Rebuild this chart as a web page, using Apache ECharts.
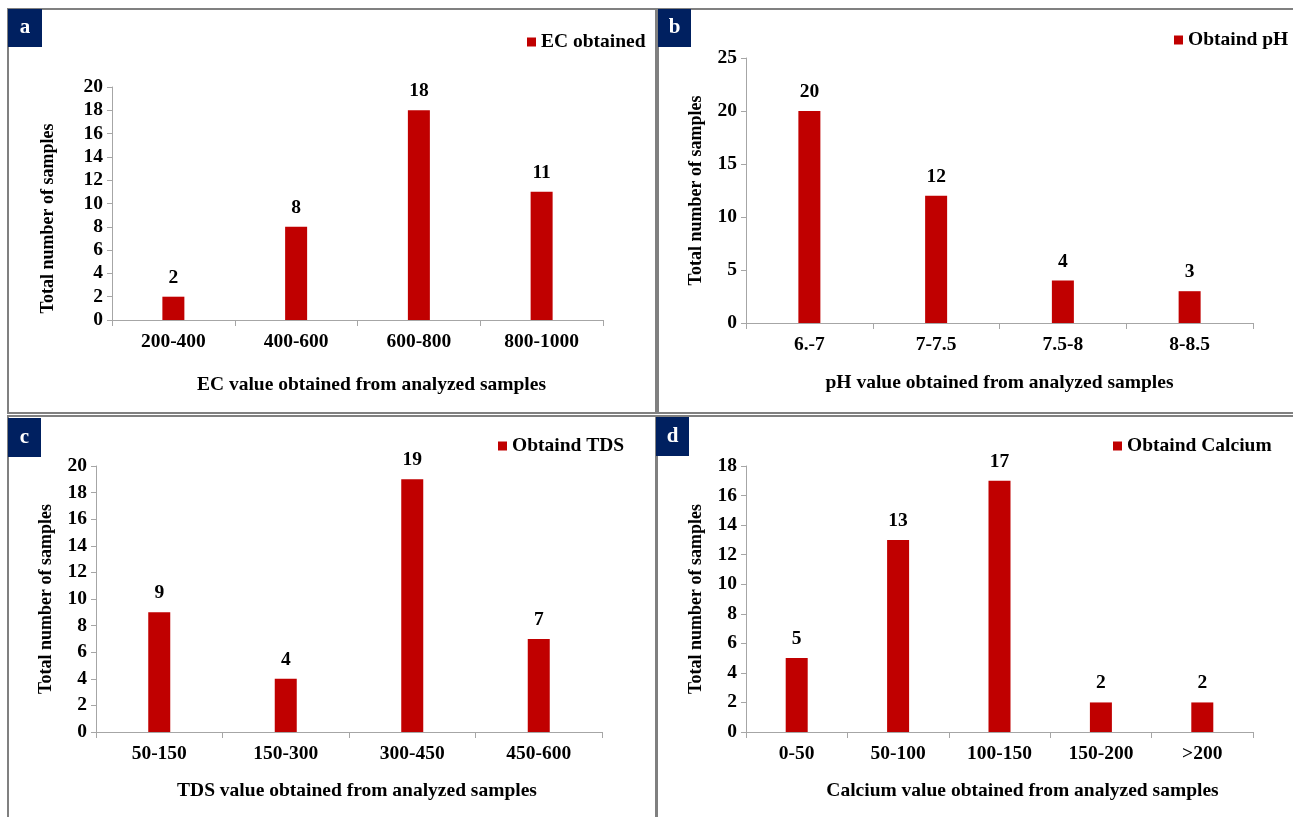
<!DOCTYPE html>
<html>
<head>
<meta charset="utf-8">
<script src="https://cdn.jsdelivr.net/npm/echarts@6/dist/echarts.min.js"></script>
<style>
html,body{margin:0;padding:0;background:#fff;}
#chart{width:1293px;height:817px;}
</style>
</head>
<body>
<div id="chart"></div>
<script>
// ---- data ----
const catA = ['200-400', '400-600', '600-800', '800-1000'];
const valA = [2, 8, 18, 11];
const catB = ['6.-7', '7-7.5', '7.5-8', '8-8.5'];
const valB = [20, 12, 4, 3];
const catC = ['50-150', '150-300', '300-450', '450-600'];
const valC = [9, 4, 19, 7];
const catD = ['0-50', '50-100', '100-150', '150-200', '>200'];
const valD = [5, 13, 17, 2, 2];

const namesS = ['EC obtained', 'Obtaind pH', 'Obtaind TDS', 'Obtaind Calcium'];
const xTitles = ['EC value obtained from analyzed samples', 'pH value obtained from analyzed samples',
                 'TDS value obtained from analyzed samples', 'Calcium value obtained from analyzed samples'];
const yTitle = 'Total number of samples';
const yMax = [20, 25, 20, 18];
const yInterval = [2, 5, 2, 2];
const panelLetters = ['a', 'b', 'c', 'd'];

const cats = [catA, catB, catC, catD];
const vals = [valA, valB, valC, valD];

// ---- layout ----
const FONT = 'Liberation Serif';
const FS = 19.5;
const RED = '#c00000';
const NAVY = '#002060';
const grids = [
  {left: 112, top: 87, width: 491, height: 233},
  {left: 746, top: 58, width: 507, height: 265},
  {left: 96, top: 466, width: 506, height: 266},
  {left: 746, top: 466, width: 507, height: 266}
];
const xNameGap = [55, 50, 49, 49];
const xNameShift = [28, 0, 16, 46];
const yNameGap = [55, 41, 41, 41];
const yNameShift = [30, 0, 0, 0];
const legendPos = [{left: 527, top: 32}, {left: 1174, top: 30}, {left: 498, top: 436}, {left: 1113, top: 436}];
const frames = [
  {x: 8, y: 9, w: 648, h: 404},
  {x: 658, y: 9, w: 640, h: 404},
  {x: 8, y: 416, w: 648, h: 410},
  {x: 657, y: 416, w: 640, h: 410}
];
const boxes = [
  {x: 8, y: 9, w: 34, h: 38},
  {x: 658, y: 9, w: 33, h: 38},
  {x: 8, y: 418, w: 33, h: 39},
  {x: 656, y: 417, w: 33, h: 39}
];

const axisGray = '#a6a6a6';
const option = {
  animation: false,
  backgroundColor: '#ffffff',
  textStyle: {fontFamily: FONT},
  grid: grids,
  legend: namesS.map((n, i) => ({
    data: [n], left: legendPos[i].left, top: legendPos[i].top, padding: 0,
    icon: 'rect', itemWidth: 9, itemHeight: 9,
    textStyle: {fontFamily: FONT, fontWeight: 'bold', fontSize: FS, color: '#000'}
  })),
  xAxis: cats.map((c, i) => ({
    type: 'category', gridIndex: i, data: c,
    axisLine: {lineStyle: {color: axisGray, width: 1}},
    axisTick: {show: true, length: 6, lineStyle: {color: axisGray}},
    axisLabel: {fontFamily: FONT, fontWeight: 'bold', fontSize: FS, color: '#000', margin: 12},
    name: xTitles[i], nameLocation: 'middle', nameGap: xNameGap[i],
    nameTextStyle: {fontFamily: FONT, fontWeight: 'bold', fontSize: FS, color: '#000',
                    padding: [0, 0, 0, xNameShift[i]]}
  })),
  yAxis: vals.map((v, i) => ({
    type: 'value', gridIndex: i, min: 0, max: yMax[i], interval: yInterval[i],
    splitLine: {show: false},
    axisLine: {show: true, lineStyle: {color: axisGray, width: 1}},
    axisTick: {show: true, length: 5, lineStyle: {color: axisGray}},
    axisLabel: {fontFamily: FONT, fontWeight: 'bold', fontSize: FS, color: '#000', margin: 9},
    name: yTitle, nameLocation: 'middle', nameGap: yNameGap[i], nameRotate: 90,
    nameTextStyle: {fontFamily: FONT, fontWeight: 'bold', fontSize: 18, color: '#000',
                    padding: [0, yNameShift[i], 0, 0]}
  })),
  series: vals.map((v, i) => ({
    type: 'bar', name: namesS[i], xAxisIndex: i, yAxisIndex: i, data: v,
    barWidth: 22,
    itemStyle: {color: RED},
    label: {show: true, position: 'top', distance: 9, fontFamily: FONT, fontWeight: 'bold', fontSize: FS, color: '#000'}
  })),
  graphic: [
    ...frames.map(f => ({
      type: 'rect', shape: {x: f.x, y: f.y, width: f.w, height: f.h}, silent: true, z: -10,
      style: {fill: '#fff', stroke: '#808080', lineWidth: 2}
    })),
    ...boxes.map((b, i) => ({
      type: 'group', z: 10,
      children: [
        {type: 'rect', shape: {x: b.x, y: b.y, width: b.w, height: b.h}, style: {fill: NAVY}},
        {type: 'text', x: b.x + b.w / 2, y: b.y + b.h / 2,
         style: {text: panelLetters[i], fill: '#fff', font: 'bold 21px "Liberation Serif"',
                 align: 'center', verticalAlign: 'middle'}}
      ]
    }))
  ]
};

const chart = echarts.init(document.getElementById('chart'), null, {renderer: 'canvas'});
chart.setOption(option);
</script>
</body>
</html>
